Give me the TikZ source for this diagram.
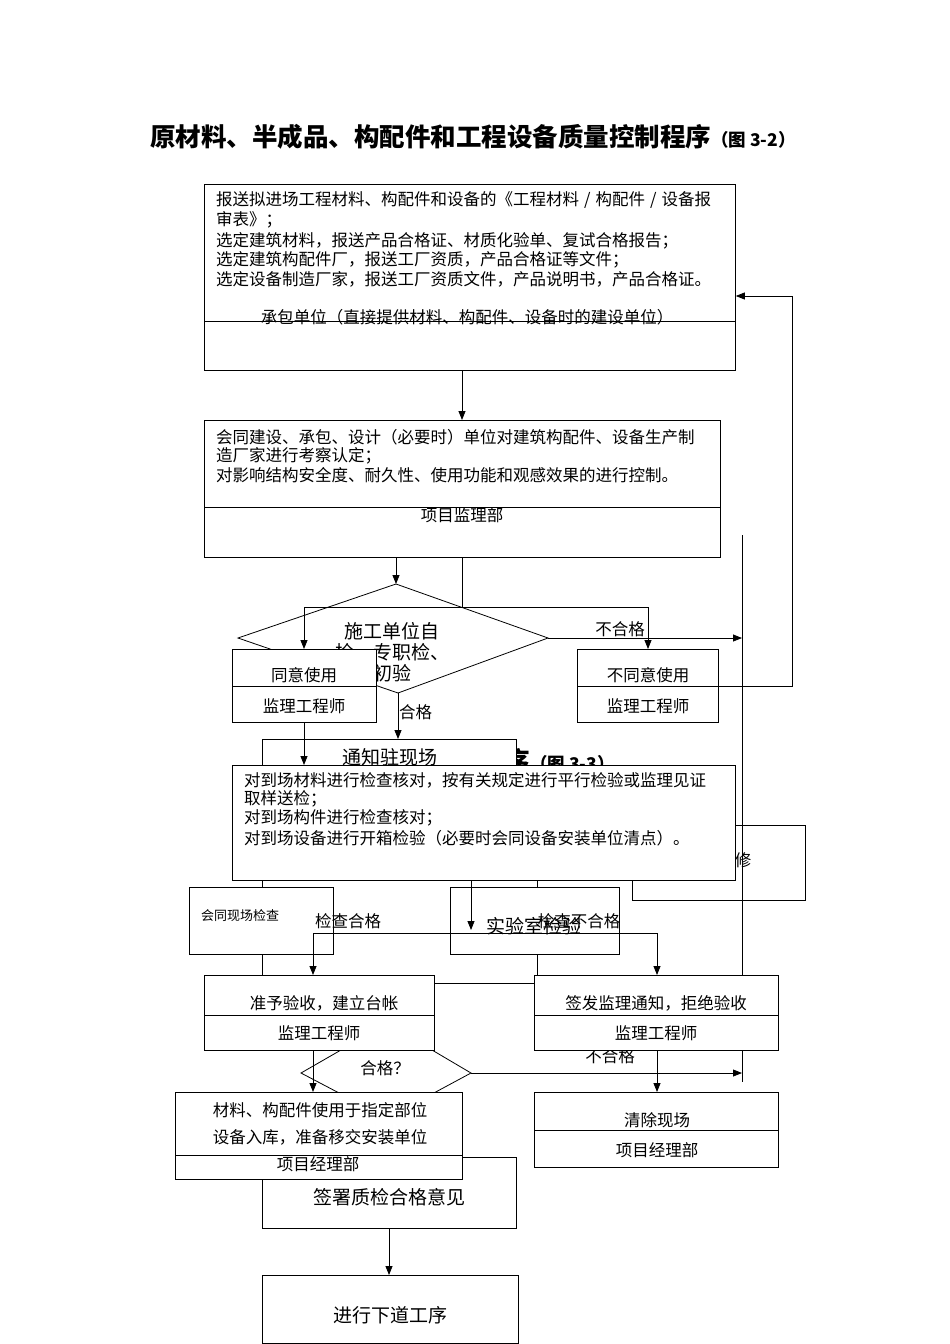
\documentclass[tikz,border=0pt]{standalone}
\usepackage{fontspec}
\setmainfont{Noto Sans CJK SC}
\usetikzlibrary{arrows.meta}
\newcommand{\fn}{\fontsize{16.5}{19.7}\selectfont}
\newcommand{\fbig}{\fontsize{19}{22}\selectfont}
\newcommand{\fsm}{\fontsize{13}{15}\selectfont}
\newcommand{\sls}{\hspace{5pt}/\hspace{5pt}}
\begin{document}
\begin{tikzpicture}[x=1pt,y=-1pt,
  bx/.style={draw, fill=white, line width=0.8pt, inner sep=0pt, anchor=north west},
  arr/.style={-{Triangle[length=9pt,width=7pt]}, line width=0.8pt},
  ln/.style={line width=0.8pt},
  tl/.style={inner sep=0pt, anchor=west, font=\fn},
  tc/.style={inner sep=0pt, font=\fn},
  tb/.style={inner sep=0pt, font=\fbig}]
\useasboundingbox (0,0) rectangle (950,1344);
% title
\node[inner sep=0pt, anchor=base west] (title) at (150,146)
  {\fontsize{25.5}{26}\selectfont\bfseries 原材料、半成品、构配件和工程设备质量控制程序\fontsize{17.5}{18}\selectfont（图 3-2）};
% box 1
\node[bx, minimum width=531pt, minimum height=186pt] (b1) at (204,184) {};
\draw[ln] (204,321) -- (735,321);
\node[tl] (b1t1) at (216,200) {报送拟进场工程材料、构配件和设备的《工程材料\sls 构配件\sls 设备报};
\node[tl] (b1t2) at (216,220) {审表》；};
\node[tl] (b1t3) at (216,241) {选定建筑材料，报送产品合格证、材质化验单、复试合格报告；};
\node[tl] (b1t4) at (216,260) {选定建筑构配件厂，报送工厂资质，产品合格证等文件；};
\node[tl] (b1t5) at (216,279) {选定设备制造厂家，报送工厂资质文件，产品说明书，产品合格证。};
\node[tc] (b1s) at (467,317) {承包单位（直接提供材料、构配件、设备时的建设单位）};
% box 2
\node[bx, minimum width=516pt, minimum height=137pt] (b2) at (204,420) {};
\draw[ln] (204,507) -- (720,507);
\node[tl] (b2t1) at (216,437) {会同建设、承包、设计（必要时）单位对建筑构配件、设备生产制};
\node[tl] (b2t2) at (216,456) {造厂家进行考察认定；};
\node[tl] (b2t3) at (216,475) {对影响结构安全度、耐久性、使用功能和观感效果的进行控制。};
\node[tc] (b2s) at (462,515) {项目监理部};
\draw[arr] (462,370) -- (462,420);
% diamond
\coordinate (dt) at (396,584);
\coordinate (dl) at (238,638);
\coordinate (dr) at (548,638);
\coordinate (db) at (398,693);
\draw[ln, fill=white] (dt) -- (dr) -- (db) -- (dl) -- cycle;
\node[tb] (dtx1) at (392,631) {施工单位自};
\node[tb] (dtx2) at (392,652) {检、专职检、};
\node[tb] (dtx3) at (392,673) {初验};
\draw[arr] (396,557) -- (dt);
\draw[ln] (462,557) -- (462,607);
\draw[ln] (304,607) -- (648,607);
\draw[arr] (304,607) -- (304,649);
\draw[arr] (648,607) -- (648,649);
% agree / disagree boxes
\node[bx, minimum width=144pt, minimum height=73pt] (ok) at (232,649) {};
\draw[ln] (232,686) -- (376,686);
\node[tc] at (304,675) {同意使用};
\node[tc] at (304,706) {监理工程师};
\node[bx, minimum width=141pt, minimum height=73pt] (nok) at (577,649) {};
\draw[ln] (577,686) -- (718,686);
\node[tc] at (648,675) {不同意使用};
\node[tc] at (648,706) {监理工程师};
\node[tc] (lbl1) at (620,629) {不合格};
\coordinate (r1) at (742,638);
\draw[arr] (dr) -- (r1);
\coordinate (r2) at (792,686);
\coordinate (r3) at (792,296);
\draw[arr] (nok.east |- r2) -- (r2) -- (r3) -- (b1.east |- r3);
\node[tc, anchor=west] (lbl2) at (399,712) {合格};
% hidden title fragment
\node[inner sep=0pt, anchor=base east] (t33) at (615,770)
  {\fontsize{25.5}{26}\selectfont\bfseries 序\fontsize{17.5}{18}\selectfont（图 3-3）};
% notify box and hidden outline
\draw[ln] (262,790) -- (262,983) -- (537,983) -- (537,870);
\node[bx, minimum width=254pt, minimum height=60pt] (nt) at (262,739) {};
\node[tb] at (390,757) {通知驻现场};
\draw[arr] (db) -- (398,739);
% repair box (mostly hidden)
\node[bx, minimum width=173pt, minimum height=75pt] (rp) at (632,825) {};
\node[tc] at (743,860) {修};
% big box
\node[bx, minimum width=503pt, minimum height=115pt] (bb) at (232,765) {};
\node[tl] at (244,780) {对到场材料进行检查核对，按有关规定进行平行检验或监理见证};
\node[tl] at (244,799) {取样送检；};
\node[tl] at (244,818) {对到场构件进行检查核对；};
\node[tl] at (244,838) {对到场设备进行开箱检验（必要时会同设备安装单位清点）。};
\draw[arr] (304,722) -- (304,765);
% long vertical line
\draw[ln] (742,535) -- (742,1082);
% site check & lab boxes
\node[bx, minimum width=144pt, minimum height=67pt] (sc) at (189,887) {};
\node[inner sep=0pt, anchor=west, font=\fsm] at (201,916) {会同现场检查};
\node[bx, minimum width=169pt, minimum height=67pt] (lab) at (450,887) {};
\node[tb] at (534,926) {实验室检验};
\node[tc] (lbl3) at (579,921) {检查不合格};
\node[tc] (lbl4) at (348,921) {检查合格};
\draw[arr] (471,880) -- (471,930);
\draw[ln] (313,933) -- (657,933);
\draw[arr] (313,933) -- (313,975);
\draw[arr] (657,933) -- (657,975);
% hexagon
\coordinate (hl) at (301,1073);
\coordinate (hr) at (471,1073);
\draw[ln, fill=white] (hl) -- (341,1050) -- (432,1050) -- (hr) -- (432,1094) -- (341,1094) -- cycle;
\node[tc] at (385,1068) {合格？};
\node[tc] (lbl5) at (610,1056) {不合格};
% accept / reject boxes
\node[bx, minimum width=230pt, minimum height=75pt] (acc) at (204,975) {};
\draw[ln] (204,1015) -- (434,1015);
\node[tc] at (324,1003) {准予验收，建立台帐};
\node[tc] at (319,1033) {监理工程师};
\node[bx, minimum width=244pt, minimum height=75pt] (rej) at (534,975) {};
\draw[ln] (534,1015) -- (778,1015);
\node[tc] at (656,1003) {签发监理通知，拒绝验收};
\node[tc] at (656,1033) {监理工程师};
% sign box, material box, clear box
\node[bx, minimum width=254pt, minimum height=71pt] (sg) at (262,1157) {};
\node[tb] at (389,1197) {签署质检合格意见};
\node[bx, minimum width=287pt, minimum height=87pt] (mt) at (175,1092) {};
\draw[ln] (175,1155) -- (462,1155);
\node[tc] at (320,1110) {材料、构配件使用于指定部位};
\node[tc] at (320,1137) {设备入库，准备移交安装单位};
\node[tc] at (318,1164) {项目经理部};
\node[bx, minimum width=244pt, minimum height=75pt] (cl) at (534,1092) {};
\draw[ln] (534,1130) -- (778,1130);
\node[tc] at (657,1120) {清除现场};
\node[tc] at (657,1150) {项目经理部};
\draw[arr] (313,1050) -- (313,1092);
\draw[arr] (657,1050) -- (657,1092);
\draw[arr] (hr) -- (742,1073);
% last
\node[bx, minimum width=256pt, minimum height=68pt] (nx) at (262,1275) {};
\node[tb] at (390,1315) {进行下道工序};
\draw[arr] (389,1228) -- (389,1275);
\end{tikzpicture}
\end{document}
